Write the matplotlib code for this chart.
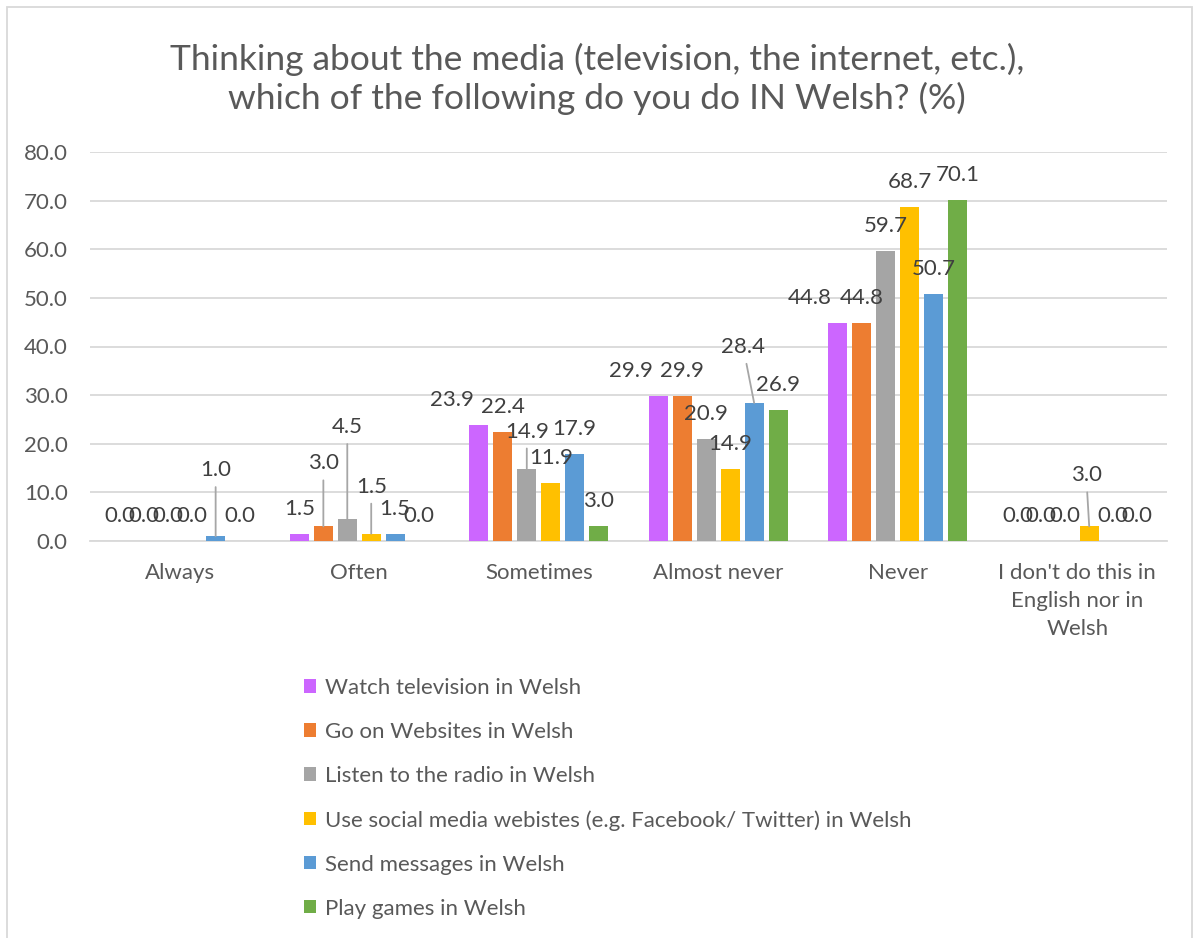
import matplotlib.pyplot as plt
from matplotlib.patches import Rectangle
import numpy as np

plt.rcParams['font.family'] = ['Lato', 'DejaVu Sans']

categories = ["Always", "Often", "Sometimes", "Almost never", "Never",
              "I don't do this in\nEnglish nor in\nWelsh"]
series_names = [
    "Watch television in Welsh",
    "Go on Websites in Welsh",
    "Listen to the radio in Welsh",
    "Use social media webistes (e.g. Facebook/ Twitter) in Welsh",
    "Send messages in Welsh",
    "Play games in Welsh",
]
television = [0.0, 1.5, 23.9, 29.9, 44.8, 0.0]
websites = [0.0, 3.0, 22.4, 29.9, 44.8, 0.0]
radio = [0.0, 4.5, 14.9, 20.9, 59.7, 0.0]
social_media = [0.0, 1.5, 11.9, 14.9, 68.7, 3.0]
messages = [1.0, 1.5, 17.9, 28.4, 50.7, 0.0]
games = [0.0, 0.0, 3.0, 26.9, 70.1, 0.0]
colors = ["#cc66ff", "#ed7d31", "#a5a5a5", "#ffc000", "#5b9bd5", "#70ad47"]

all_series = [television, websites, radio, social_media, messages, games]

# labels that were dragged away from the bar: (category, series) -> (dx, dy) in px, leader line
moved_labels = {
    (0, 4): (0, 41, True),
    (1, 1): (0, 38, True),
    (1, 2): (0, 67, True),
    (1, 3): (0, 22, True),
    (2, 0): (-27, 0, False),
    (2, 2): (0, 12, True),
    (3, 0): (-27, 0, False),
    (3, 4): (-11, 31, True),
    (4, 0): (-28, 0, False),
    (5, 3): (-3, 26, True),
}

text_color = "#595959"
W, H = 1194, 938
fig = plt.figure(figsize=(W / 100, H / 100), dpi=100)
ax = fig.add_axes([90 / W, (H - 541) / H, 1077 / W, 389 / H])

x = np.arange(len(categories))
step = 0.1333
width = 0.106
px = 0.72  # points per pixel

for j, (vals, col, name) in enumerate(zip(all_series, colors, series_names)):
    pos = x + (j - 2.5) * step
    ax.bar(pos, vals, width, color=col, label=name, zorder=3)
    for i, v in enumerate(vals):
        dx, dy, leader = moved_labels.get((i, j), (0, 0, False))
        kw = {}
        if leader:
            kw["arrowprops"] = dict(arrowstyle="-", color="#a6a6a6", lw=1.3,
                                    shrinkA=3, shrinkB=0)
        ax.annotate(f"{v:.1f}", xy=(pos[i], v),
                    xytext=(dx * px, (25 + dy) * px), textcoords="offset points",
                    ha="center", va="center", fontsize=16, color="#404040",
                    zorder=4, **kw)

ax.set_xlim(-0.5, len(categories) - 0.5)
ax.set_ylim(0, 80)
ax.set_yticks(np.arange(0, 81, 10))
ax.set_yticklabels([f"{t:.1f}" for t in np.arange(0, 81, 10)])
ax.set_xticks(x)
ax.set_xticklabels(categories, linespacing=1.5)
ax.tick_params(axis="y", length=0, pad=16, labelsize=16, labelcolor=text_color)
ax.tick_params(axis="x", length=0, pad=16, labelsize=16, labelcolor=text_color)
ax.grid(axis="y", color="#d9d9d9", lw=1.3, zorder=0)
for side in ["top", "right", "left"]:
    ax.spines[side].set_visible(False)
ax.spines["bottom"].set_color("#d9d9d9")
ax.spines["bottom"].set_linewidth(1.3)

fig.text(0.5, 1 - 79 / H,
         "Thinking about the media (television, the internet, etc.),\nwhich of the following do you do IN Welsh? (%)",
         ha="center", va="center", fontsize=25.5, color=text_color, linespacing=1.2)

fig.legend(loc="upper left", bbox_to_anchor=(284 / W, 1 - 658 / H), frameon=False,
           fontsize=16, labelcolor=text_color, handlelength=0.55, handleheight=0.55,
           handletextpad=0.4, labelspacing=1.08)

fig.patches.append(Rectangle((7 / W, -0.01), 1185 / W, 1.01 - 7 / H, transform=fig.transFigure,
                             fill=False, edgecolor="#d9d9d9", lw=1.3))

fig.savefig("out.png", dpi=100)
